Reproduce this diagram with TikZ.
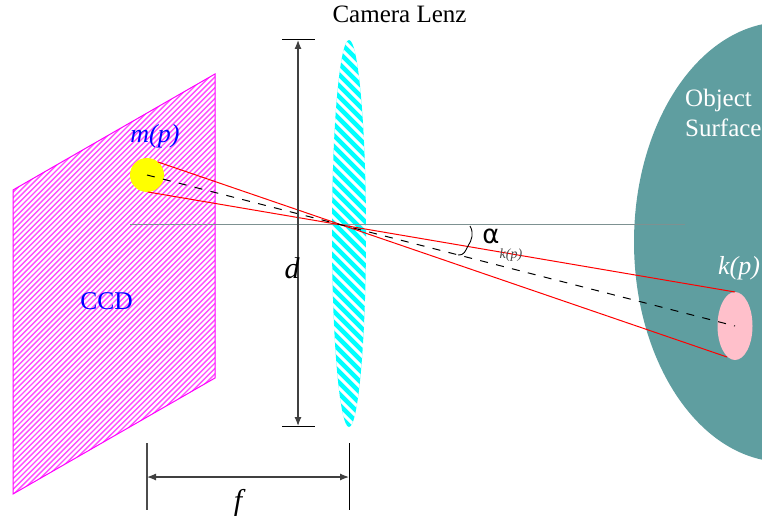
\documentclass[tikz,border=0pt]{standalone}
\usepackage{fontspec}
\setmainfont{Liberation Serif}
\usetikzlibrary{arrows.meta,shapes.geometric}
\definecolor{teal1}{RGB}{95,158,160}
\definecolor{axisc}{RGB}{125,145,145}
\definecolor{pinkk}{RGB}{255,192,203}
\definecolor{magentaR}{RGB}{255,0,255}
\definecolor{cyanR}{RGB}{0,255,255}
\definecolor{yellowR}{RGB}{255,255,0}
\definecolor{blueR}{RGB}{0,0,255}
\definecolor{redR}{RGB}{255,0,0}
\tikzset{
  lbl/.style={inner sep=0pt,font=\fontsize{24}{26}\selectfont},
  ray/.style={redR,line width=1pt},
  axisline/.style={axisc,line width=1.4pt},
  dim/.style={black,line width=1pt},
  dimarrow/.style={black!75,line width=1.2pt,{Latex[length=9pt,width=7pt]}-{Latex[length=9pt,width=7pt]}},
}
\begin{document}
\begin{tikzpicture}[x=1pt,y=-1pt]
\useasboundingbox (0,0) rectangle (762,516);
\clip (0,0) rectangle (762,516);
% object surface
\node[ellipse,fill=teal1,minimum width=300pt,minimum height=440pt,inner sep=0pt] (surface) at (784,242) {};
% CCD
\begin{scope}
\clip (13,190) -- (215,74) -- (215,378) -- (13,494) -- cycle;
\foreach \k in {200,205.4,...,600} {\draw[magentaR!70!white,line width=1.4pt] (\k+20,-20) -- (\k-520,520);}
\end{scope}
\draw[magentaR,line width=1pt] (13,190) -- (215,74) -- (215,378) -- (13,494) -- cycle;
% lens
\node[ellipse,minimum width=34pt,minimum height=387pt,inner sep=0pt] (lens) at (349,233.5) {};
\begin{scope}
\clip (349,233.5) ellipse [x radius=17, y radius=193.5];
\fill[cyanR] (330,38) rectangle (368,430);
\foreach \k in {-60,-49,...,440} {\draw[white,line width=3pt] (320,\k) -- (380,\k+60);}
\end{scope}
% circle, ellipse
\node[circle,fill=yellowR,minimum size=34pt,inner sep=0pt] (mp) at (147,175) {};
\node[ellipse,fill=pinkk,minimum width=35pt,minimum height=68pt,inner sep=0pt] (kp) at (735,326) {};
% axis
\coordinate (axisL) at (130,224.5);
\coordinate (axisR) at (685,224.5);
\draw[axisline] (axisL) -- (axisR);
% rays
\coordinate (mpT) at (158,162);
\coordinate (mpB) at (148,192);
\coordinate (kpT) at (735,292);
\coordinate (kpB) at (727,357);
\coordinate (mpC) at (147,175);
\coordinate (kpC) at (735,326);
\draw[ray] (mpT) -- (kpB);
\draw[ray] (mpB) -- (kpT);
\draw[black,line width=1pt,dash pattern=on 8pt off 8.38pt] (mpC) -- (kpC);
% d
\coordinate (dT) at (298,40);
\coordinate (dB) at (298,426);
\coordinate (dTl) at (282,40); \coordinate (dTr) at (315,40);
\coordinate (dBl) at (282,426); \coordinate (dBr) at (315,426);
\draw[dim] (dTl) -- (dTr);
\draw[dim] (dBl) -- (dBr);
\draw[dimarrow] (dT) -- (dB);
% f
\coordinate (fL) at (147,477); \coordinate (fR) at (349,477);
\coordinate (fLt) at (147,443); \coordinate (fLb) at (147,510);
\coordinate (fRt) at (349,443); \coordinate (fRb) at (349,510);
\draw[black!70,line width=1.2pt] (fLt) -- (fLb);
\draw[dim] (fRt) -- (fRb);
\draw[dimarrow] (fL) -- (fR);
% brace
\coordinate (brA) at (470,226);
\coordinate (brB) at (458,255);
\draw[black,line width=0.9pt] (brA) .. controls (474,233) and (472,240) .. (468,246) .. controls (465,251) and (465,255) .. (brB);
% labels
\node[lbl,font=\fontsize{25}{27}\selectfont] (title) at (399.5,14) {Camera Lenz};
\node[lbl,blueR,font=\fontsize{25.5}{27}\selectfont] (ccd) at (106.5,301) {CCD};
\node[lbl,blueR,font=\fontsize{26}{28}\selectfont\itshape] (mlabel) at (155,136) {m(p)};
\node[lbl,white,font=\fontsize{25}{30}\selectfont,align=left,anchor=north west] (obj) at (685,89) {Object\\Surface};
\node[lbl,white,font=\fontsize{26}{28}\selectfont\itshape] (klabel) at (739,268) {k(p)};
\node[lbl,font=\fontsize{30}{32}\selectfont\itshape] (dlabel) at (292,268) {d};
\node[lbl,font=\fontsize{30}{32}\selectfont\itshape] (flabel) at (238,503) {f};
\node[lbl,font=\fontsize{26}{30}\selectfont\fontspec{DejaVu Sans}] (alabel) at (491,236) {α};
\node[lbl,black!70,font=\fontsize{14}{15}\selectfont\itshape] (ksmall) at (511,255) {k(p)};
\end{tikzpicture}
\end{document}
